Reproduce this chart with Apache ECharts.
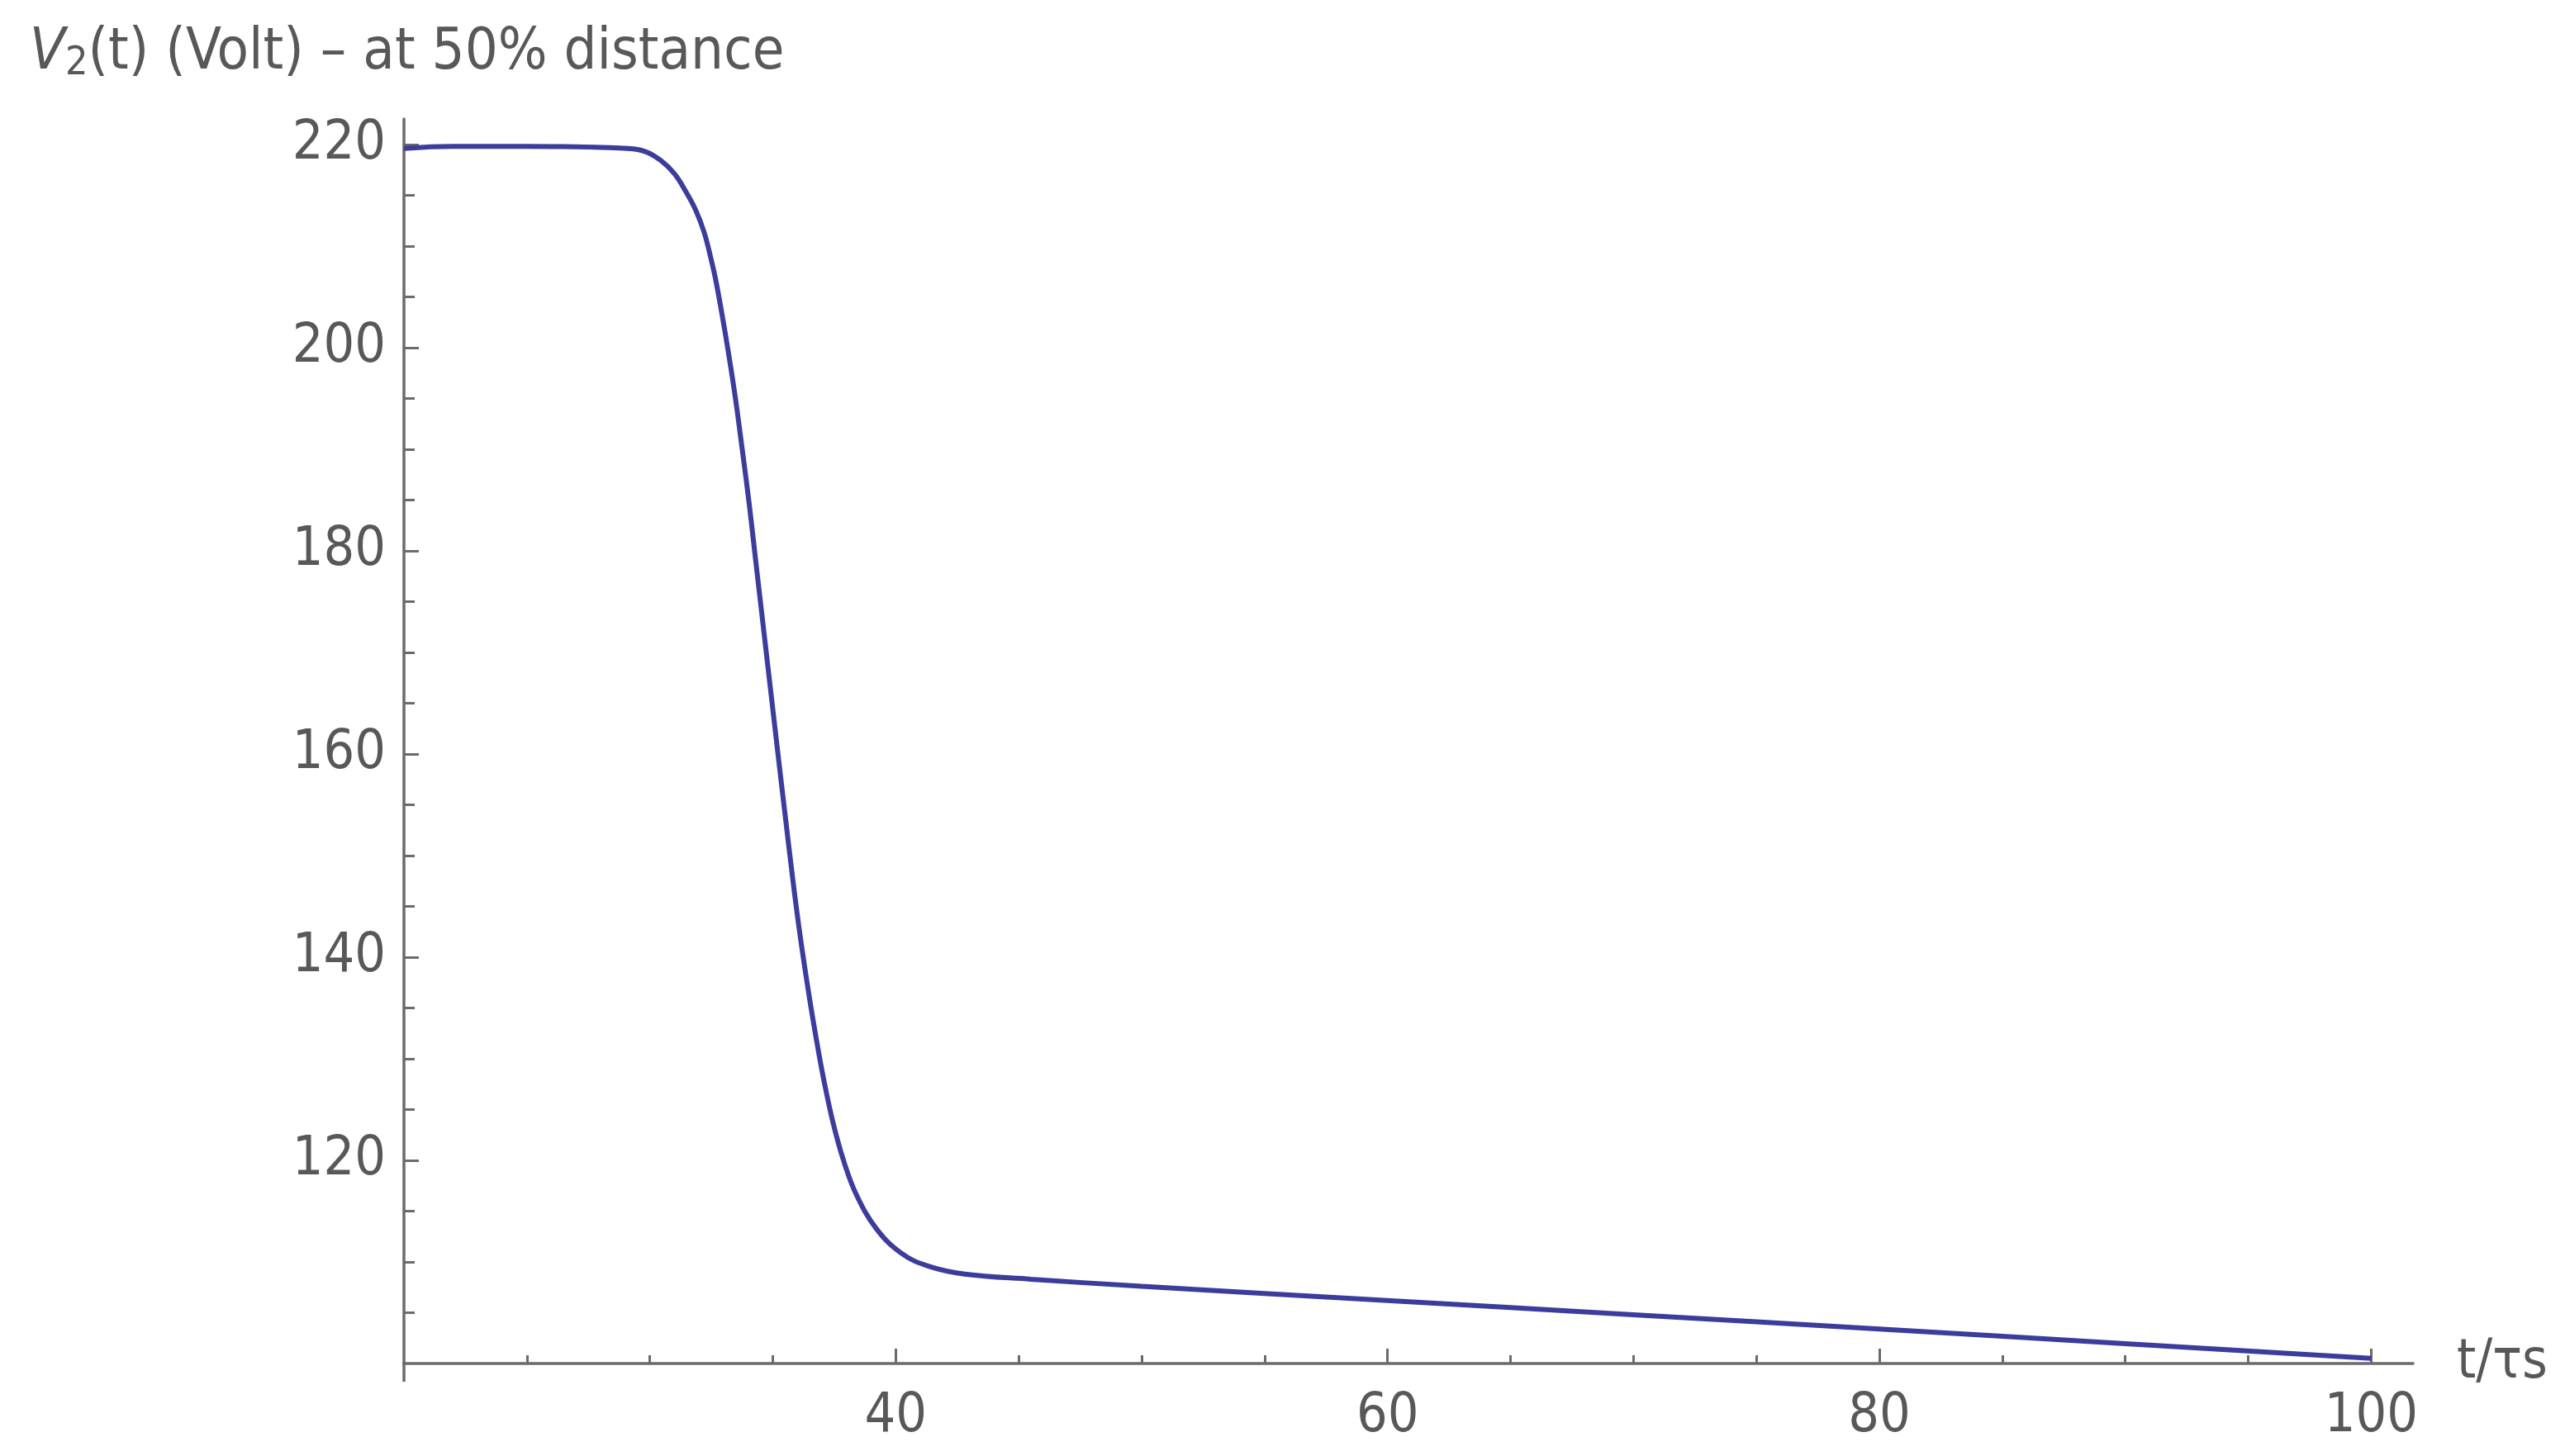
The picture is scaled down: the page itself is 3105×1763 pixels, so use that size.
<!DOCTYPE html>
<html>
<head>
<meta charset="utf-8">
<script src="https://cdn.jsdelivr.net/npm/echarts@6/dist/echarts.min.js"></script>
<style>
html,body{margin:0;padding:0;background:#fff;}
#chart{width:3105px;height:1763px;}
</style>
</head>
<body>
<div id="chart"></div>
<script>
// t/τs values
var tValues = [20, 22, 25, 27, 28, 29.1, 29.8, 30.45, 31.0, 31.45, 31.85, 32.2, 32.45, 32.7, 33.1, 33.45, 33.75, 34.05, 34.3, 34.6, 34.9, 35.2, 35.5, 35.8, 36.1, 36.45, 36.75, 37.05, 37.45, 37.9, 38.4, 39.2, 40.2, 41.3, 42.8, 45.5, 50, 60, 70, 80, 90, 100];
// V2(t) in volts
var vValues = [219.6, 219.8, 219.8, 219.75, 219.7, 219.6, 219.3, 218.4, 217.1, 215.4, 213.6, 211.4, 209.1, 206.4, 200.9, 195.5, 190.1, 184.4, 179.1, 172.8, 166.5, 160.2, 154.0, 147.9, 142.3, 136.6, 132.2, 128.2, 123.7, 119.8, 116.6, 113.3, 110.9, 109.6, 108.8, 108.3, 107.6, 106.2, 104.8, 103.4, 101.95, 100.5];

var xMajorTicks = [40, 60, 80, 100];
var xMinorTicks = [25, 30, 35, 45, 50, 55, 65, 70, 75, 85, 90, 95];
var yMajorTicks = [120, 140, 160, 180, 200, 220];
var yMinorTicks = [105, 110, 115, 125, 130, 135, 145, 150, 155, 165, 170, 175, 185, 190, 195, 205, 210, 215];

var xRange = [20, 101.7];
var yRange = [100, 222.5];
var xAxisStub = [18.4, 20];
var yAxisStub = [98.2, 100];

var curve = tValues.map(function (t, i) { return [t, vValues[i]]; });

var AX = '#6b6b6b';
var TXT = '#585858';
var FONT = '"DejaVu Sans Condensed", "Liberation Sans Narrow", sans-serif';
var FS = 66;
var TFS = 70;

var chart = echarts.init(document.getElementById('chart'), null, {renderer: 'canvas'});
chart.setOption({
  backgroundColor: '#ffffff',
  animation: false,
  title: {
    text: '{v|V}{s|2}{n|(t) (Volt) – at 50% distance}',
    left: 36,
    top: 30,
    padding: 0,
    textStyle: {
      fontFamily: FONT,
      fontSize: TFS,
      color: TXT,
      fontWeight: 'normal',
      rich: {
        v: {fontFamily: FONT, fontSize: TFS, color: TXT, fontStyle: 'italic', lineHeight: 72, verticalAlign: 'top'},
        n: {fontFamily: FONT, fontSize: TFS, color: TXT, lineHeight: 72, verticalAlign: 'top'},
        s: {fontFamily: FONT, fontSize: 48, color: TXT, lineHeight: 48, verticalAlign: 'bottom', padding: [44, 0, 0, 0]}
      }
    }
  },
  grid: {
    left: 489,
    right: 184,
    top: 144,
    bottom: 112,
    containLabel: false,
    outerBoundsMode: 'none'
  },
  xAxis: [{
    type: 'value',
    min: xRange[0],
    max: xRange[1],
    position: 'bottom',
    name: 't/τs',
    nameLocation: 'end',
    nameGap: 53,
    nameTextStyle: {fontFamily: FONT, fontSize: FS, color: TXT, verticalAlign: 'middle', padding: [0, 0, 10, 0]},
    axisLine: {show: true, onZero: false, lineStyle: {color: AX, width: 3.5}},
    axisTick: {show: true, inside: true, length: 18, customValues: xMajorTicks, lineStyle: {color: AX, width: 3}},
    axisLabel: {show: true, customValues: xMajorTicks, margin: 32, fontFamily: FONT, fontSize: FS, color: TXT},
    splitLine: {show: false}
  }, {
    type: 'value',
    min: xRange[0],
    max: xRange[1],
    position: 'bottom',
    axisLine: {show: false},
    axisTick: {show: true, inside: true, length: 10, customValues: xMinorTicks, lineStyle: {color: AX, width: 3}},
    axisLabel: {show: false},
    splitLine: {show: false}
  }],
  yAxis: [{
    type: 'value',
    min: yRange[0],
    max: yRange[1],
    position: 'left',
    axisLine: {show: true, onZero: false, lineStyle: {color: AX, width: 3.5}},
    axisTick: {show: true, inside: true, length: 18, customValues: yMajorTicks, lineStyle: {color: AX, width: 3}},
    axisLabel: {show: true, customValues: yMajorTicks, margin: 22, fontFamily: FONT, fontSize: FS, color: TXT, padding: [0, 0, 12, 0]},
    splitLine: {show: false}
  }, {
    type: 'value',
    min: yRange[0],
    max: yRange[1],
    position: 'left',
    axisLine: {show: false},
    axisTick: {show: true, inside: true, length: 13, customValues: yMinorTicks, lineStyle: {color: AX, width: 3}},
    axisLabel: {show: false},
    splitLine: {show: false}
  }],
  series: [{
    name: 'V2',
    type: 'line',
    xAxisIndex: 0,
    yAxisIndex: 0,
    data: curve,
    showSymbol: false,
    smooth: 0.4,
    lineStyle: {color: '#3c3c9c', width: 6},
    silent: true
  }, {
    name: 'xStub',
    type: 'line',
    xAxisIndex: 0,
    yAxisIndex: 0,
    clip: false,
    data: [[xAxisStub[0], yRange[0]], [xAxisStub[1], yRange[0]]],
    showSymbol: false,
    lineStyle: {color: AX, width: 3.5},
    silent: true
  }, {
    name: 'yStub',
    type: 'line',
    xAxisIndex: 0,
    yAxisIndex: 0,
    clip: false,
    data: [[xRange[0], yAxisStub[0]], [xRange[0], yAxisStub[1]]],
    showSymbol: false,
    lineStyle: {color: AX, width: 3.5},
    silent: true
  }]
});
</script>
</body>
</html>
